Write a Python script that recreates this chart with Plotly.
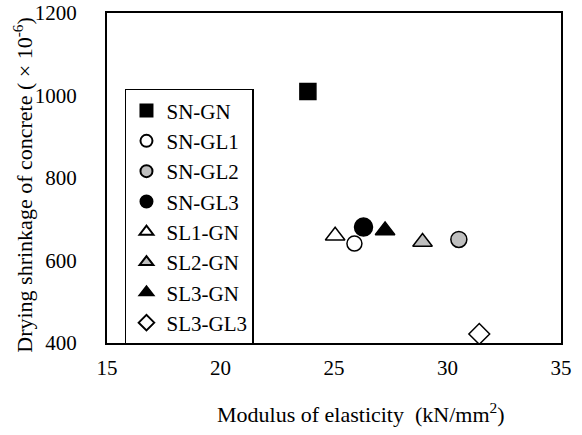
import plotly.graph_objects as go

names = ["SN-GN", "SN-GL1", "SN-GL2", "SN-GL3", "SL1-GN", "SL2-GN", "SL3-GN", "SL3-GL3"]
modulus = [23.85, 25.9, 30.5, 26.3, 25.05, 28.9, 27.25, 31.4]
shrinkage = [1010, 641, 651, 681, 660, 645, 673, 422]
symbols = ["square", "circle", "circle", "circle", "triangle-up", "triangle-up", "triangle-up", "diamond"]
fills = ["black", "white", "#BFBFBF", "black", "white", "#BFBFBF", "black", "white"]
sizes = [16, 15, 16, 18, 17, 17, 17, 16]

x_title = "Modulus of elasticity  (kN/mm<sup>2</sup>)"
y_title = "Drying shrinkage of concrete ( × 10<sup>-6</sup>)"

fig = go.Figure()
for n, x, y, s, c, sz in zip(names, modulus, shrinkage, symbols, fills, sizes):
    fig.add_trace(go.Scatter(
        x=[x], y=[y], mode="markers", name=n,
        marker=dict(symbol=s, size=sz, color=c, line=dict(color="black", width=1.5)),
    ))

font = "Liberation Serif"
tf = dict(family=font, size=21, color="black")
titlef = dict(family=font, size=22, color="black")
fig.update_layout(
    width=582, height=435,
    margin=dict(l=107, r=21, t=13, b=92),
    paper_bgcolor="white", plot_bgcolor="white",
    font=dict(family=font, size=21, color="black"),
    showlegend=True,
    legend=dict(
        x=0.0396, y=0.77, xanchor="left", yanchor="top",
        bgcolor="white", bordercolor="black", borderwidth=1.5,
        font=dict(family=font, size=21, color="black"),
        itemwidth=30, itemsizing="constant",
    ),
    xaxis=dict(
        range=[15, 35], tickvals=[15, 20, 25, 30, 35], showgrid=False, zeroline=False,
        showline=True, linecolor="black", linewidth=2, mirror=True, ticks="",
        tickfont=tf, ticklabelstandoff=5, automargin=False,
    ),
    yaxis=dict(
        range=[400, 1200], tickvals=[400, 600, 800, 1000, 1200], showgrid=False, zeroline=False,
        showline=True, linecolor="black", linewidth=2, mirror=True,
        ticks="outside", ticklen=24, tickcolor="rgba(0,0,0,0)",
        tickfont=tf, automargin=False,
    ),
    annotations=[
        dict(text=x_title, xref="paper", yref="paper", x=0.5595, y=-0.212,
             xanchor="center", yanchor="middle", showarrow=False, font=titlef),
        dict(text=y_title, xref="paper", yref="paper", x=-0.187, y=0.48,
             xanchor="center", yanchor="middle", showarrow=False, font=titlef, textangle=-90),
    ],
)
fig.write_html("out.html")
